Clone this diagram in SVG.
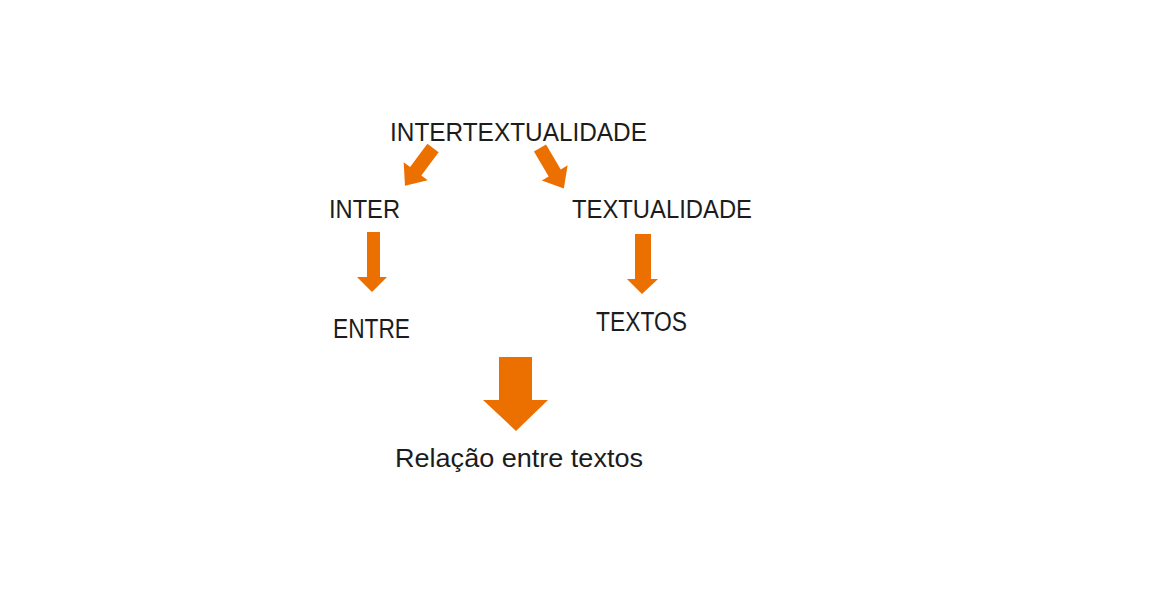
<svg xmlns="http://www.w3.org/2000/svg" width="1173" height="611" viewBox="0 0 1173 611">
<defs>
<style>
.t{font-family:"Liberation Sans",Arial,sans-serif;fill:#1c1c1c;font-size:26px}
.a{fill:#EC7000}
</style>
<path id="diag" d="M-7,0 H7 V29 H15 L0,47 L-15,29 H-7 Z"/>
</defs>
<rect width="1173" height="611" fill="#ffffff"/>
<g id="connectors">
<use href="#diag" class="a" transform="translate(433,148) rotate(36.6)"/>
<use href="#diag" class="a" transform="translate(540,148) rotate(-30.5)"/>
<path class="a" d="M367,232 H380 V277 H387 L372,292 L357,277 H367 Z"/>
<path class="a" d="M635,234 H651 V279 H658 L642,294 L627,279 H635 Z"/>
<path class="a" d="M499,357 H532 V400 H548 L516,431 L483,400 H499 Z"/>
</g>
<g id="n-intertextualidade"><text class="t" x="390" y="141" textLength="257" lengthAdjust="spacingAndGlyphs">INTERTEXTUALIDADE</text></g>
<g id="n-inter"><text class="t" x="329" y="218" textLength="71" lengthAdjust="spacingAndGlyphs">INTER</text></g>
<g id="n-textualidade"><text class="t" x="572" y="218" textLength="180" lengthAdjust="spacingAndGlyphs">TEXTUALIDADE</text></g>
<g id="n-entre"><text class="t" x="333" y="338" style="font-size:28px" textLength="77" lengthAdjust="spacingAndGlyphs">ENTRE</text></g>
<g id="n-textos"><text class="t" x="596" y="331" style="font-size:27px" textLength="91" lengthAdjust="spacingAndGlyphs">TEXTOS</text></g>
<g id="n-relacao"><text class="t" x="395" y="467" textLength="248" lengthAdjust="spacingAndGlyphs">Relação entre textos</text></g>
</svg>
